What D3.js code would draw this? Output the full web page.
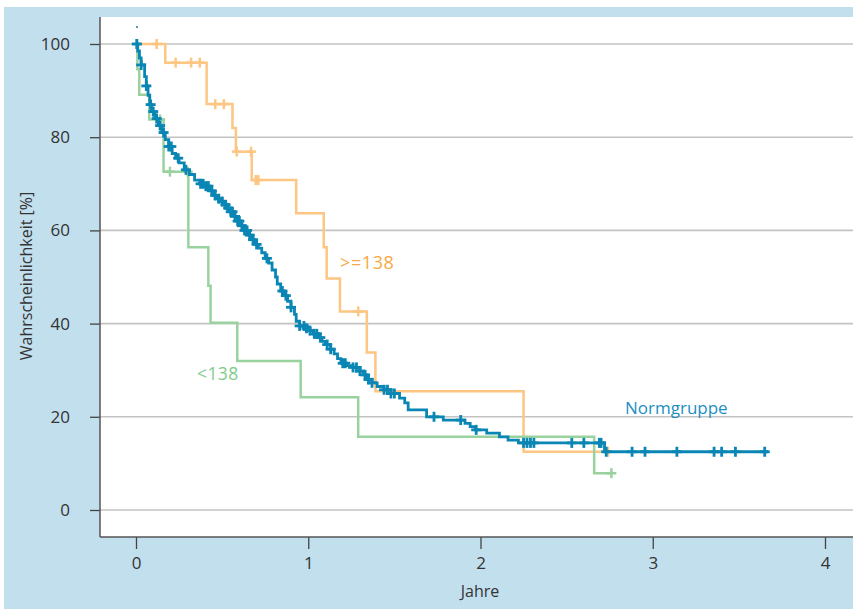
<!DOCTYPE html>
<html><head><meta charset="utf-8">
<script src="https://cdn.jsdelivr.net/npm/d3@7"></script>
<style>body{margin:0;background:#fff}svg{display:block}text{font-family:"Open Sans","Noto Sans",sans-serif}</style>
</head><body><svg id="c" width="853" height="609"></svg>
<script>
// ---- data ----
const xTicks = [0, 1, 2, 3, 4];
const yTicks = [0, 20, 40, 60, 80, 100];
const xLabel = "Jahre";
const yLabel = "Wahrscheinlichkeit [%]";

const highTimes = [0, 0.17, 0.41, 0.56, 0.58, 0.672, 0.93, 1.09, 1.107, 1.184, 1.34, 1.39, 2.25, 2.74];
const highSurv  = [100, 96.0, 87.1, 82.0, 76.9, 70.8, 63.7, 56.4, 49.7, 42.6, 33.8, 25.5, 12.5, 12.5];
const highCens  = [0.12, 0.23, 0.32, 0.37, 0.46, 0.51, 0.585, 0.668, 0.695, 0.71, 1.29, 2.74];

const lowTimes = [0, 0.008, 0.019, 0.077, 0.16, 0.304, 0.42, 0.433, 0.588, 0.956, 1.29, 2.66, 2.76];
const lowSurv  = [100, 94.6, 89.1, 83.8, 72.6, 56.4, 48.1, 40.2, 32.0, 24.2, 15.7, 7.9, 7.9];
const lowCens  = [0.003, 0.14, 0.197, 0.30, 2.76];

const normTimes = [0, 0.01, 0.02, 0.03, 0.05, 0.06, 0.07, 0.08, 0.09, 0.11, 0.13, 0.15, 0.17, 0.19, 0.21, 0.23, 0.25, 0.28, 0.31, 0.34, 0.37, 0.40, 0.43, 0.45, 0.47, 0.49, 0.51, 0.53, 0.55, 0.57, 0.59, 0.61, 0.63, 0.65, 0.67, 0.69, 0.71, 0.73, 0.75, 0.77, 0.79, 0.81, 0.82, 0.84, 0.86, 0.88, 0.90, 0.92, 0.93, 0.95, 0.98, 1.00, 1.03, 1.06, 1.08, 1.10, 1.13, 1.15, 1.17, 1.19, 1.22, 1.26, 1.30, 1.32, 1.34, 1.37, 1.40, 1.44, 1.48, 1.53, 1.56, 1.58, 1.687, 1.784, 1.91, 1.94, 1.97, 2.036, 2.11, 2.16, 2.22, 2.72, 3.67];
const normSurv  = [100, 98.5, 97, 95.5, 93, 91, 89, 87, 85.5, 84, 82.5, 81, 79.5, 78, 76.5, 75.5, 74.5, 73, 72, 70.8, 70, 69.5, 68.5, 67.5, 66.8, 66.2, 65.5, 64.8, 64, 63, 62, 61, 60, 59, 58, 57, 56.2, 55.2, 54, 53, 51.5, 50, 48.5, 47, 46, 44.8, 43.5, 42, 40.5, 39.5, 39, 38.5, 37.8, 37, 36.2, 35.5, 34.5, 33.5, 32.5, 31.5, 31, 30.6, 29.8, 29, 28, 27.3, 26.5, 25.8, 25, 24, 23, 21.5, 20, 19.3, 18.6, 17.9, 17.2, 16.5, 15.7, 15, 14.4, 12.5, 12.5];
const normCens  = [0.005, 0.03, 0.06, 0.085, 0.10, 0.12, 0.14, 0.16, 0.19, 0.205, 0.245, 0.29, 0.375, 0.39, 0.405, 0.42, 0.44, 0.46, 0.48, 0.50, 0.52, 0.535, 0.55, 0.56, 0.575, 0.59, 0.60, 0.615, 0.63, 0.645, 0.66, 0.68, 0.70, 0.76, 0.85, 0.87, 0.90, 0.95, 0.975, 0.99, 1.01, 1.035, 1.05, 1.07, 1.11, 1.13, 1.20, 1.215, 1.26, 1.28, 1.30, 1.33, 1.35, 1.37, 1.44, 1.46, 1.48, 1.50, 1.73, 1.885, 1.975, 2.25, 2.27, 2.29, 2.31, 2.53, 2.60, 2.69, 2.70, 2.73, 2.88, 2.955, 3.14, 3.356, 3.40, 3.48, 3.65];

const seriesNames = [">=138", "<138", "Normgruppe"];

// ---- layout ----
const svg = d3.select("#c");
const W = 853, H = 609;
const frame = {l: 100, t: 17, r: 853, b: 537};
const x = d3.scaleLinear().domain([0, 4]).range([136, 825]);
const y = d3.scaleLinear().domain([0, 100]).range([510, 44]);

svg.append("rect").attr("x", 4).attr("y", 7).attr("width", W - 4).attr("height", H - 7).attr("fill", "#c2dfee");
svg.append("rect").attr("x", frame.l).attr("y", frame.t).attr("width", frame.r - frame.l).attr("height", frame.b - frame.t).attr("fill", "#fff");

// grid
svg.append("g").selectAll("line").data(yTicks).join("line")
  .attr("x1", frame.l).attr("x2", frame.r).attr("y1", d => y(d)).attr("y2", d => y(d))
  .attr("stroke", "#c3c3c3").attr("stroke-width", 1.6);

// axes
const gx = svg.append("g").attr("transform", `translate(0,${frame.b})`)
  .call(d3.axisBottom(x).tickValues(xTicks).tickSize(12).tickPadding(8).tickFormat(d3.format("d")));
const gy = svg.append("g").attr("transform", `translate(${frame.l},0)`)
  .call(d3.axisLeft(y).tickValues(yTicks).tickSize(10).tickPadding(20).tickFormat(d3.format("d")));
[gx, gy].forEach(g => {
  g.select(".domain").remove();
  g.selectAll(".tick line").attr("stroke", "#444").attr("stroke-width", 1.3);
  g.selectAll(".tick text").attr("fill", "#333").style("font-size", "17px");
});
svg.append("line").attr("x1", frame.l).attr("x2", frame.l).attr("y1", frame.t).attr("y2", frame.b).attr("stroke", "#555").attr("stroke-width", 1.5);
svg.append("line").attr("x1", frame.l).attr("x2", frame.r).attr("y1", frame.b).attr("y2", frame.b).attr("stroke", "#555").attr("stroke-width", 1.5);

svg.append("text").attr("x", 480).attr("y", 597).attr("text-anchor", "middle").attr("fill", "#333").style("font-size", "16px").text(xLabel);
svg.append("text").attr("transform", "translate(32,276) rotate(-90)").attr("text-anchor", "middle").attr("fill", "#333").style("font-size", "16px").text(yLabel);

// KM curves
function survAt(times, surv, t) {
  let v = surv[0];
  for (let i = 0; i < times.length; i++) if (times[i] <= t) v = surv[i];
  return v;
}
const line = d3.line().x(d => x(d[0])).y(d => y(d[1])).curve(d3.curveStepAfter);
function drawKM(times, surv, cens, color, lw) {
  const pts = times.map((t, i) => [t, surv[i]]);
  const g = svg.append("g");
  g.append("path").attr("d", line(pts)).attr("fill", "none").attr("stroke", color).attr("stroke-width", lw);
  const m = g.selectAll("g.c").data(cens).join("g")
    .attr("transform", d => `translate(${x(d)},${y(survAt(times, surv, d))})`);
  m.append("line").attr("x1", -5).attr("x2", 5).attr("stroke", color).attr("stroke-width", lw);
  m.append("line").attr("y1", -5).attr("y2", 5).attr("stroke", color).attr("stroke-width", lw);
}
drawKM(highTimes, highSurv, highCens, "#fdc682", 2.5);
drawKM(lowTimes, lowSurv, lowCens, "#9ad29f", 2.5);
drawKM(normTimes, normSurv, normCens, "#0a86b5", 2.8);

svg.append("circle").attr("cx", 137).attr("cy", 27).attr("r", 0.9).attr("fill", "#0a6a90");

// labels
svg.append("text").attr("x", 340).attr("y", 269).attr("fill", "#f7a945").style("font-size", "18px").style("letter-spacing", "0.6px").text(seriesNames[0]);
svg.append("text").attr("x", 197).attr("y", 380).attr("fill", "#7fcb8b").style("font-size", "17.5px").style("letter-spacing", "0.4px").text(seriesNames[1]);
svg.append("text").attr("x", 625).attr("y", 414).attr("fill", "#1b8fc2").style("font-size", "17px").text(seriesNames[2]);
</script></body></html>
